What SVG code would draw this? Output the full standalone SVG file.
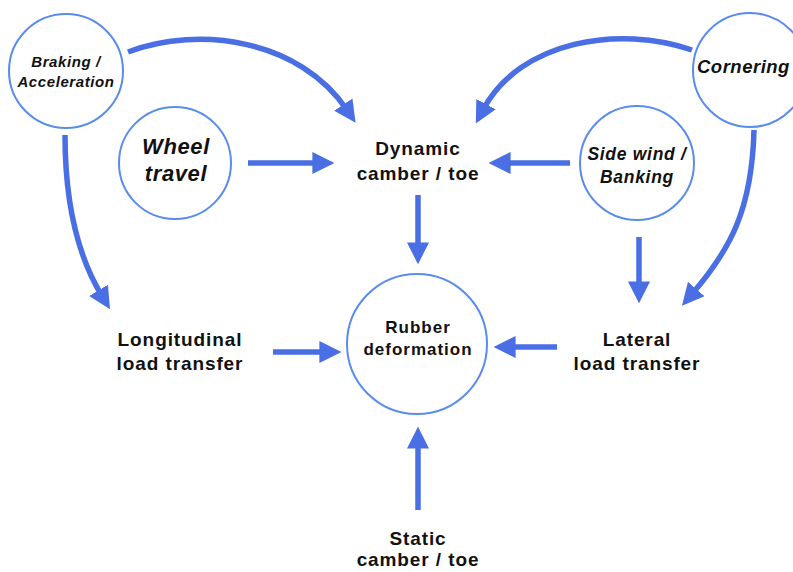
<svg xmlns="http://www.w3.org/2000/svg" width="793" height="572" viewBox="0 0 793 572">
<defs>
<style>
.node{fill:#fff;stroke:#5a8ced;stroke-width:2}
.lbl{font-family:"Liberation Sans",Arial,sans-serif;font-weight:bold;fill:#111;text-anchor:middle}
.big{font-size:19px;letter-spacing:0.9px}
.it{font-style:italic}
.conn path{fill:none;stroke:#4a6ee3;stroke-width:5.5;marker-end:url(#ah)}
</style>
<marker id="ah" viewBox="0 0 20 20" markerUnits="userSpaceOnUse" markerWidth="22" markerHeight="22" refX="6" refY="10" orient="auto">
<path d="M0,0 L20,10 L0,20 Z" fill="#4a6ee3"/>
</marker>
</defs>
<rect width="793" height="572" fill="#fff"/>
<g class="conn" id="connectors">
<path d="M128,52 C200,25 300,40 347,110"/>
<path d="M248,163 H319"/>
<path d="M692,50 C620,25 520,40 483,110"/>
<path d="M570,163 H504"/>
<path d="M418,195 V249"/>
<path d="M65,135 C65,210 80,260 102,296"/>
<path d="M273,352 H326"/>
<path d="M557,347 H509"/>
<path d="M639,237 V288"/>
<path d="M754,130 C752,210 730,250 692,294"/>
<path d="M418,510 V442"/>
</g>
<g id="braking">
<circle class="node" cx="66" cy="71" r="57"/>
<text class="lbl it" font-size="15" letter-spacing="0.6" x="66" y="67">Braking /</text>
<text class="lbl it" font-size="15" letter-spacing="0.6" x="66" y="87">Acceleration</text>
</g>
<g id="wheel">
<circle class="node" cx="175" cy="163" r="56"/>
<text class="lbl it" font-size="22" letter-spacing="0.6" x="176" y="154">Wheel</text>
<text class="lbl it" font-size="22" letter-spacing="0.6" x="176" y="181">travel</text>
</g>
<g id="cornering">
<circle class="node" cx="750" cy="70" r="57"/>
<text class="lbl it" font-size="18.5" letter-spacing="0.5" x="697" y="73" style="text-anchor:start">Cornering</text>
</g>
<g id="sidewind">
<circle class="node" cx="637" cy="163" r="57"/>
<text class="lbl it" font-size="17.5" letter-spacing="0.7" x="637" y="160">Side wind /</text>
<text class="lbl it" font-size="17.5" letter-spacing="0.7" x="637" y="183">Banking</text>
</g>
<g id="dynamic">
<text class="lbl big" x="418" y="155">Dynamic</text>
<text class="lbl big" x="418" y="180">camber / toe</text>
</g>
<g id="rubber">
<circle class="node" cx="417" cy="344" r="70"/>
<text class="lbl" font-size="17" letter-spacing="1" x="418" y="333">Rubber</text>
<text class="lbl" font-size="17" letter-spacing="1" x="418" y="355">deformation</text>
</g>
<g id="longitudinal">
<text class="lbl big" x="180" y="346">Longitudinal</text>
<text class="lbl big" x="180" y="370">load transfer</text>
</g>
<g id="lateral">
<text class="lbl big" x="637" y="346">Lateral</text>
<text class="lbl big" x="637" y="370">load transfer</text>
</g>
<g id="static">
<text class="lbl big" x="418" y="545">Static</text>
<text class="lbl big" x="418" y="566">camber / toe</text>
</g>
</svg>
